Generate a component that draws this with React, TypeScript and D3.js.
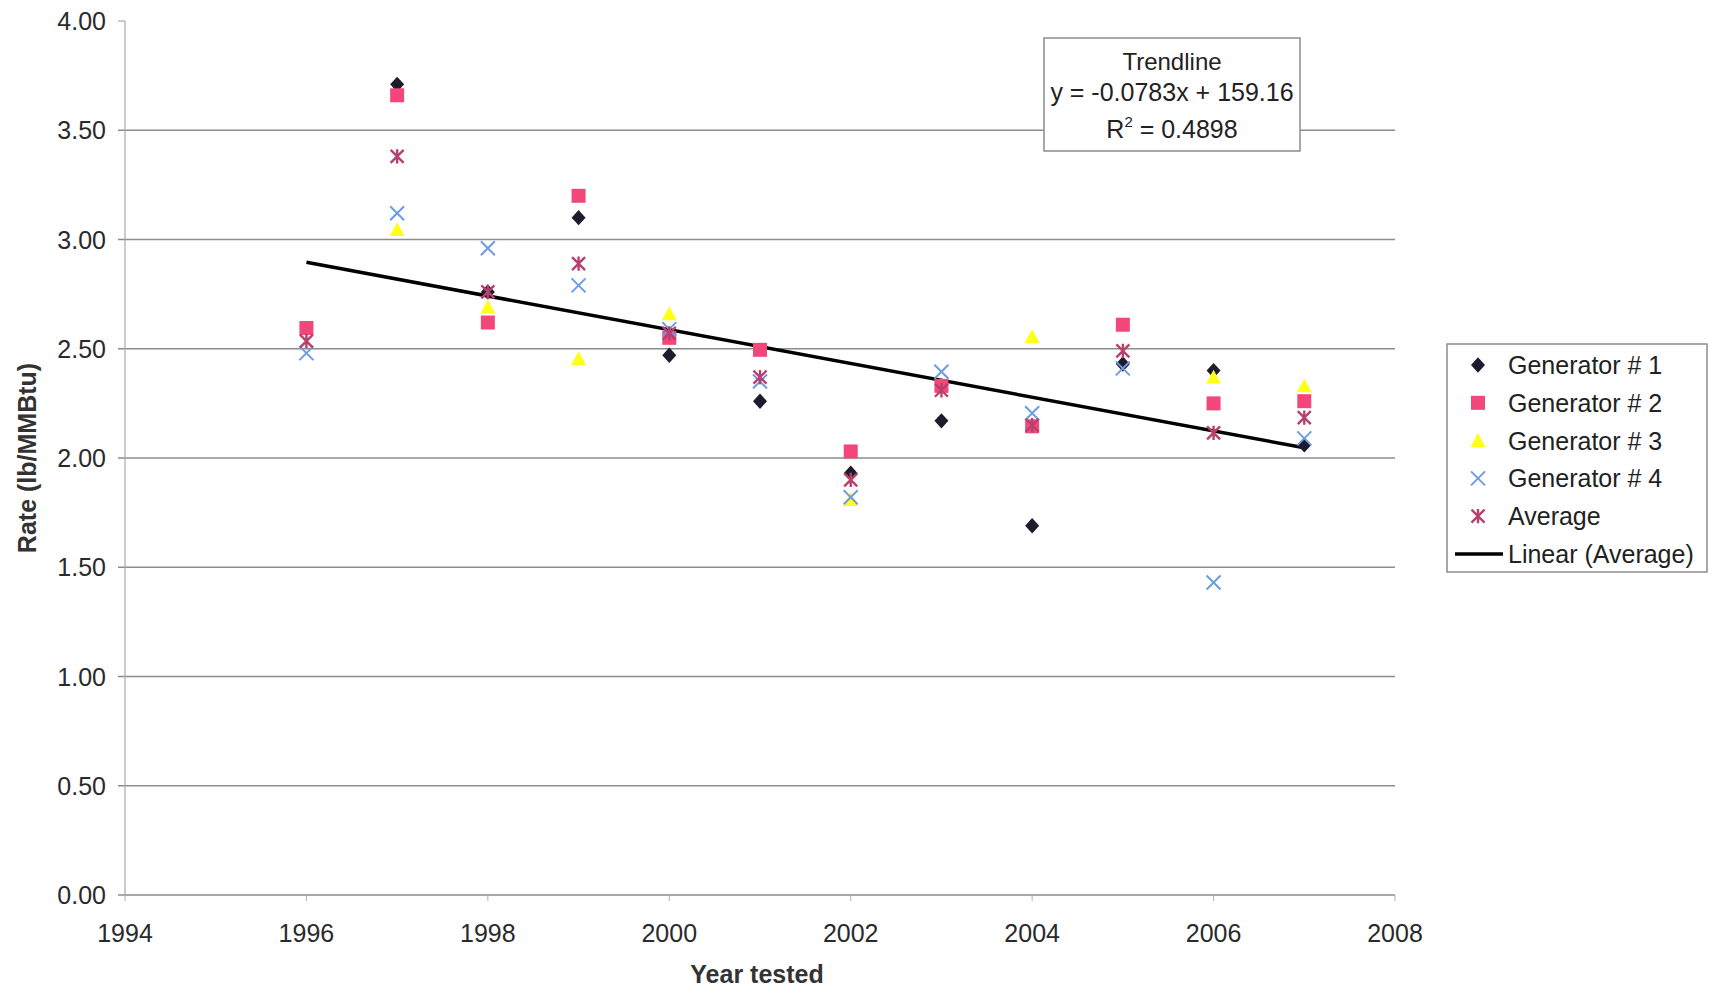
import React from "react";
import * as d3 from "d3";

const years = [1996, 1997, 1998, 1999, 2000, 2001, 2002, 2003, 2004, 2005, 2006, 2007];
const gen1 = [null, 3.71, 2.76, 3.1, 2.47, 2.26, 1.93, 2.17, 1.69, 2.43, 2.4, 2.06];
const gen2 = [2.595, 3.66, 2.62, 3.2, 2.55, 2.495, 2.03, 2.33, 2.145, 2.61, 2.25, 2.26];
const gen3 = [null, 3.045, 2.69, 2.455, 2.66, null, 1.81, null, 2.555, null, 2.37, 2.33];
const gen4 = [2.48, 3.12, 2.96, 2.79, 2.59, 2.35, 1.82, 2.395, 2.205, 2.41, 1.43, 2.09];
const average = [2.535, 3.38, 2.76, 2.89, 2.57, 2.37, 1.9, 2.31, 2.15, 2.49, 2.115, 2.185];

const yTicks = [0, 0.5, 1, 1.5, 2, 2.5, 3, 3.5, 4];
const xTicks = [1994, 1996, 1998, 2000, 2002, 2004, 2006, 2008];
const seriesNames = ["Generator # 1", "Generator # 2", "Generator # 3", "Generator # 4", "Average"];
const trendLabel = ["Trendline", "y = -0.0783x + 159.16", "0.4898"];

const W = 1715;
const H = 997;
const FONT = "'Liberation Sans', Arial, Helvetica, sans-serif";

const x = d3.scaleLinear().domain([1994, 2008]).range([125, 1395]);
const y = d3.scaleLinear().domain([0, 4]).range([895, 21]);

// custom symbol types: size = half-width in px
const diamond = {
  draw(ctx: any, r: number) {
    const h = r * 1.1;
    ctx.moveTo(0, -h);
    ctx.lineTo(r, 0);
    ctx.lineTo(0, h);
    ctx.lineTo(-r, 0);
    ctx.closePath();
  },
};
const square = {
  draw(ctx: any, r: number) {
    ctx.rect(-r, -r, 2 * r, 2 * r);
  },
};
const triangle = {
  draw(ctx: any, r: number) {
    ctx.moveTo(0, -r);
    ctx.lineTo(r, r * 0.85);
    ctx.lineTo(-r, r * 0.85);
    ctx.closePath();
  },
};
const cross = {
  draw(ctx: any, r: number) {
    ctx.moveTo(-r, -r);
    ctx.lineTo(r, r);
    ctx.moveTo(r, -r);
    ctx.lineTo(-r, r);
  },
};
const star = {
  draw(ctx: any, r: number) {
    ctx.moveTo(-r, -r);
    ctx.lineTo(r, r);
    ctx.moveTo(r, -r);
    ctx.lineTo(-r, r);
    ctx.moveTo(0, -r * 1.1);
    ctx.lineTo(0, r * 1.1);
  },
};

const series = [
  { name: seriesNames[0], values: gen1, type: diamond, size: 7, fill: "#1c1c2c", stroke: "none", sw: 0 },
  { name: seriesNames[1], values: gen2, type: square, size: 7, fill: "#f2477a", stroke: "none", sw: 0 },
  { name: seriesNames[2], values: gen3, type: triangle, size: 7.5, fill: "#ffff1a", stroke: "none", sw: 0 },
  { name: seriesNames[3], values: gen4, type: cross, size: 7, fill: "none", stroke: "#6d9de0", sw: 2 },
  { name: seriesNames[4], values: average, type: star, size: 6.5, fill: "none", stroke: "#b8406e", sw: 2.4 },
];

// least squares fit on the average series
const n = years.length;
const mx = d3.mean(years) as number;
const my = d3.mean(average) as number;
const sxy = d3.sum(years, (v, i) => (v - mx) * (average[i] - my));
const sxx = d3.sum(years, (v) => (v - mx) * (v - mx));
const slope = sxy / sxx;
const intercept = my - slope * mx;
const trendPts: [number, number][] = [years[0], years[n - 1]].map((yr) => [yr, slope * yr + intercept]);

export default function App() {
  const sym = d3.symbol();
  const line = d3
    .line<[number, number]>()
    .x((d) => x(d[0]))
    .y((d) => y(d[1]));

  const legendY0 = 365;
  const legendStep = 37.8;

  return (
    <svg
      width={W}
      height={H}
      style={{ position: "absolute", left: 0, top: 0, background: "#fff" }}
      fontFamily={FONT}
    >
      {/* gridlines */}
      {yTicks
        .filter((t) => t > 0 && t < 4)
        .map((t) => (
          <line key={"g" + t} x1={118} x2={1395} y1={y(t)} y2={y(t)} stroke="#8c8c8c" strokeWidth={1.6} />
        ))}
      {/* axis lines */}
      <line x1={125} x2={125} y1={y(4)} y2={y(0)} stroke="#a8a8a8" strokeWidth={1.2} />
      <line x1={118} x2={1395} y1={y(0)} y2={y(0)} stroke="#8c8c8c" strokeWidth={1.6} />
      <line x1={118} x2={125} y1={y(4)} y2={y(4)} stroke="#a8a8a8" strokeWidth={1.2} />
      {xTicks.map((t) => (
        <line key={"xt" + t} x1={x(t)} x2={x(t)} y1={y(0)} y2={y(0) + 6} stroke="#b0b0b0" strokeWidth={1} />
      ))}

      {/* y tick labels */}
      {yTicks.map((t) => (
        <text key={"yl" + t} x={106} y={y(t)} dy="0.36em" textAnchor="end" fontSize={25} fill="#2a2a2a">
          {d3.format(".2f")(t)}
        </text>
      ))}
      {/* x tick labels */}
      {xTicks.map((t) => (
        <text key={"xl" + t} x={x(t)} y={942} textAnchor="middle" fontSize={25} fill="#2a2a2a">
          {t}
        </text>
      ))}

      {/* axis titles */}
      <text x={757} y={983} textAnchor="middle" fontSize={25} fontWeight="bold" fill="#333">
        Year tested
      </text>
      <text
        transform={`translate(27,458) rotate(-90)`}
        dy="0.36em"
        textAnchor="middle"
        fontSize={25}
        fontWeight="bold"
        fill="#333"
      >
        Rate (lb/MMBtu)
      </text>

      {/* trend line */}
      <path d={line(trendPts) as string} stroke="#000" strokeWidth={3.5} fill="none" />

      {/* markers */}
      {series.map((s) => (
        <g key={s.name}>
          {s.values.map((v, i) =>
            v == null ? null : (
              <path
                key={i}
                transform={`translate(${x(years[i])},${y(v)})`}
                d={sym.type(s.type as any).size(s.size)() as string}
                fill={s.fill}
                stroke={s.stroke}
                strokeWidth={s.sw}
              />
            )
          )}
        </g>
      ))}

      {/* trendline box */}
      <rect x={1044} y={38} width={256} height={113} fill="#fff" stroke="#8c8c8c" strokeWidth={1.5} />
      <text x={1172} y={70} textAnchor="middle" fontSize={24} fill="#222">
        {trendLabel[0]}
      </text>
      <text x={1172} y={101} textAnchor="middle" fontSize={25} fill="#222">
        {trendLabel[1]}
      </text>
      <text x={1172} y={138} textAnchor="middle" fontSize={25} fill="#222">
        R
        <tspan fontSize={15} dy={-11}>
          2
        </tspan>
        <tspan dy={11}>{" = " + trendLabel[2]}</tspan>
      </text>

      {/* legend */}
      <rect x={1447} y={344} width={260} height={228} fill="#fff" stroke="#8c8c8c" strokeWidth={1.5} />
      {series.map((s, i) => {
        const cy = legendY0 + i * legendStep;
        return (
          <g key={"lg" + s.name}>
            <path
              transform={`translate(1478,${cy})`}
              d={sym.type(s.type as any).size(s.size)() as string}
              fill={s.fill}
              stroke={s.stroke}
              strokeWidth={s.sw}
            />
            <text x={1508} y={cy} dy="0.36em" fontSize={25} fill="#222">
              {s.name}
            </text>
          </g>
        );
      })}
      <line
        x1={1455}
        x2={1503}
        y1={legendY0 + 5 * legendStep}
        y2={legendY0 + 5 * legendStep}
        stroke="#000"
        strokeWidth={3.5}
      />
      <text x={1508} y={legendY0 + 5 * legendStep} dy="0.36em" fontSize={25} fill="#222">
        Linear (Average)
      </text>
    </svg>
  );
}
